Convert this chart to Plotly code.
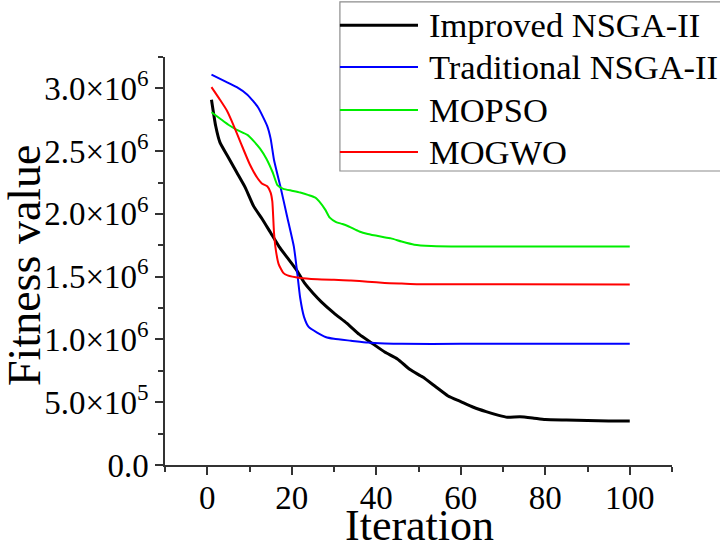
import plotly.graph_objects as go

# ---------------- data ----------------
series_names = ["Improved NSGA-II", "Traditional NSGA-II", "MOPSO", "MOGWO"]
series_colors = ["#000000", "#0000ff", "#00ee00", "#ff0000"]
series_widths = [3, 2, 2, 2]

improved_iter = [1, 2, 3, 5, 7, 9, 11, 13, 15, 17, 19, 21, 23, 25, 27, 30, 33, 36, 39, 42,
                 45, 48, 51, 54, 57, 60, 63, 66, 69, 71, 74, 77, 80, 85, 90, 95, 100]
improved_vals = [2.91e6, 2.70e6, 2.57e6, 2.45e6, 2.33e6, 2.21e6, 2.06e6, 1.96e6, 1.85e6, 1.74e6,
                 1.65e6, 1.56e6, 1.45e6, 1.37e6, 1.30e6, 1.21e6, 1.13e6, 1.04e6, 0.97e6, 0.90e6,
                 0.845e6, 0.76e6, 0.70e6, 0.625e6, 0.55e6, 0.505e6, 0.46e6, 0.425e6, 0.395e6,
                 0.38e6, 0.385e6, 0.375e6, 0.362e6, 0.358e6, 0.354e6, 0.350e6, 0.350e6]

trad_iter = [1, 4, 7, 9.5, 12, 14.2, 15, 15.8, 17.3, 18.9, 20.5, 21.3, 22, 22.9, 24, 26, 28,
             30, 34, 38, 42, 46, 60, 80, 100]
trad_vals = [3.11e6, 3.06e6, 3.01e6, 2.95e6, 2.85e6, 2.70e6, 2.60e6, 2.43e6, 2.22e6, 1.98e6,
             1.74e6, 1.53e6, 1.33e6, 1.18e6, 1.10e6, 1.055e6, 1.02e6, 1.005e6, 0.99e6, 0.975e6,
             0.968e6, 0.965e6, 0.965e6, 0.965e6, 0.965e6]

mopso_iter = [1, 3, 5, 7, 9.5, 11, 12.5, 14, 15.5, 16.6, 18, 20, 22, 24, 25.6, 26.5, 28, 29,
              30.5, 32, 33.5, 36, 38, 41, 43.5, 46, 49, 53, 60, 80, 100]
mopso_vals = [2.81e6, 2.76e6, 2.71e6, 2.67e6, 2.63e6, 2.58e6, 2.52e6, 2.44e6, 2.33e6, 2.23e6,
              2.20e6, 2.185e6, 2.17e6, 2.15e6, 2.13e6, 2.10e6, 2.03e6, 1.97e6, 1.935e6, 1.92e6,
              1.90e6, 1.86e6, 1.84e6, 1.82e6, 1.805e6, 1.78e6, 1.755e6, 1.745e6, 1.74e6,
              1.74e6, 1.74e6]

mogwo_iter = [1, 3, 4.7, 6.3, 8, 10, 11.8, 13, 14.2, 15, 15.4, 15.8, 16.2, 16.9, 18, 19, 22,
              26, 30, 34, 38, 42, 46, 50, 70, 100]
mogwo_vals = [3.01e6, 2.91e6, 2.82e6, 2.70e6, 2.56e6, 2.40e6, 2.29e6, 2.24e6, 2.22e6, 2.17e6,
              2.10e6, 1.85e6, 1.72e6, 1.60e6, 1.53e6, 1.51e6, 1.49e6, 1.48e6, 1.475e6, 1.47e6,
              1.46e6, 1.45e6, 1.445e6, 1.44e6, 1.44e6, 1.438e6]

y_tickvals = [0, 5e5, 1e6, 1.5e6, 2e6, 2.5e6, 3e6]
y_ticktext = ["0.0", "5.0×10<sup>5</sup>", "1.0×10<sup>6</sup>", "1.5×10<sup>6</sup>",
              "2.0×10<sup>6</sup>", "2.5×10<sup>6</sup>", "3.0×10<sup>6</sup>"]
x_title = "Iteration"
y_title = "Fitness value"

xs = [improved_iter, trad_iter, mopso_iter, mogwo_iter]
ys = [improved_vals, trad_vals, mopso_vals, mogwo_vals]

FONT = "Liberation Serif"
fig = go.Figure()
for name, x, y, c, w in zip(series_names, xs, ys, series_colors, series_widths):
    fig.add_trace(go.Scatter(x=x, y=y, mode="lines", name=name,
                             line=dict(color=c, width=w, shape="spline", smoothing=0.5),
                             showlegend=False))

# manual legend (box + sample lines + labels), in paper coordinates
leg_x0, leg_x1 = 0.345, 1.11
leg_y0, leg_y1 = 0.7206, 1.135
row_y = [1.078, 0.9755, 0.870, 0.767]
shapes = [dict(type="rect", xref="paper", yref="paper", x0=leg_x0, x1=leg_x1, y0=leg_y0, y1=leg_y1,
               line=dict(color="#8c8c8c", width=1.2), fillcolor="white", layer="above")]
annotations = []
for name, c, w, ry in zip(series_names, series_colors, series_widths, row_y):
    shapes.append(dict(type="line", xref="paper", yref="paper", x0=leg_x0, x1=0.499, y0=ry, y1=ry,
                       line=dict(color=c, width=w), layer="above"))
    annotations.append(dict(xref="paper", yref="paper", x=0.517, y=ry, text=name, showarrow=False,
                            xanchor="left", yanchor="middle",
                            font=dict(family=FONT, size=34.5, color="black")))

# axis titles as annotations for exact placement
annotations.append(dict(xref="paper", yref="paper", x=0.501, y=-0.148, text=x_title,
                        showarrow=False, xanchor="center", yanchor="middle",
                        font=dict(family=FONT, size=44, color="black")))
annotations.append(dict(xref="paper", yref="paper", x=-0.276, y=0.488, text=y_title,
                        showarrow=False, xanchor="center", yanchor="middle", textangle=-90,
                        font=dict(family=FONT, size=46, color="black")))

axis_common = dict(showline=True, linecolor="#333333", linewidth=1.5, ticks="outside",
                   ticklen=8, tickwidth=1.5, tickcolor="#333333", showgrid=False, zeroline=False,
                   tickfont=dict(family=FONT, size=33, color="black"), mirror=False,
                   automargin=False)

fig.update_layout(
    width=720, height=546,
    margin=dict(l=165, r=48, t=57, b=81),
    paper_bgcolor="white", plot_bgcolor="white",
    shapes=shapes, annotations=annotations,
    xaxis=dict(range=[-10, 110], tickmode="linear", tick0=0, dtick=20, ticklabelstandoff=-5,
               minor=dict(tick0=0, dtick=10, ticklen=5, tickwidth=1.5, tickcolor="#333333", ticks="outside"),
               **axis_common),
    yaxis=dict(range=[0, 3.25e6], tickmode="array", tickvals=y_tickvals, ticktext=y_ticktext,
               minor=dict(tick0=0, dtick=250000, ticklen=5, tickwidth=1.5, tickcolor="#333333", ticks="outside"),
               **axis_common),
)

fig.write_html("out.html")
